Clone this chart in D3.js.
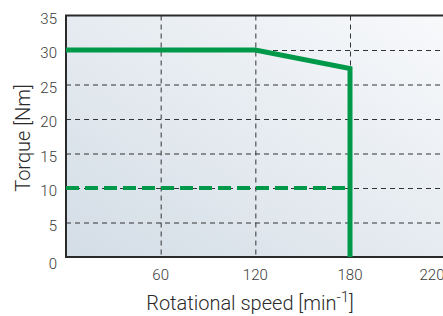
<!DOCTYPE html>
<html>
<head>
<meta charset="utf-8">
<script src="https://cdn.jsdelivr.net/npm/d3@7"></script>
<style>
  body { margin: 0; background: #fff; }
  svg { display: block; font-family: "Roboto", "Liberation Sans", sans-serif; }
</style>
</head>
<body>
<svg id="chart" width="443" height="316"></svg>
<script>
// data
var speed = [0, 120, 180, 180];          // min^-1
var peakTorque = [30, 30, 27.3, 0];      // Nm
var contSpeed = [0, 180];
var contTorque = [10, 10];
var yTicks = [0, 5, 10, 15, 20, 25, 30, 35];
var xTicks = [60, 120, 180, 220];
var xGrid = [60, 120, 180];
var yGrid = [5, 10, 15, 20, 25, 30];

var width = 443;
var height = 316;
var padding = { t: 15.5, l: 66, b: 257 };

var svg = d3.select('#chart');

// x axis is not evenly spaced in the original (220 sits near the edge)
var xScale = d3.scaleLinear().domain([0, 180, 220]).range([66, 350, 432]);
var yScale = d3.scaleLinear().domain([0, 35]).range([padding.b, padding.t]);

// background gradient
var defs = svg.append('defs');
var grad = defs.append('linearGradient')
    .attr('id', 'bg')
    .attr('x1', '0%').attr('y1', '100%')
    .attr('x2', '100%').attr('y2', '0%');
grad.append('stop').attr('offset', '0%').attr('stop-color', '#d3dde6');
grad.append('stop').attr('offset', '100%').attr('stop-color', '#f8f9fb');

svg.append('rect')
    .attr('x', xScale(0))
    .attr('y', yScale(35))
    .attr('width', width - xScale(0))
    .attr('height', yScale(0) - yScale(35))
    .attr('fill', 'url(#bg)');

// grid
svg.selectAll('.hgrid')
    .data(yGrid)
    .enter()
    .append('line')
    .attr('class', 'hgrid')
    .attr('x1', xScale(0))
    .attr('x2', width)
    .attr('y1', d => yScale(d) + 0.5)
    .attr('y2', d => yScale(d) + 0.5)
    .attr('stroke', '#333')
    .attr('stroke-width', 1)
    .attr('stroke-dasharray', '5,4');

svg.selectAll('.vgrid')
    .data(xGrid)
    .enter()
    .append('line')
    .attr('class', 'vgrid')
    .attr('x1', d => xScale(d) + 0.5)
    .attr('x2', d => xScale(d) + 0.5)
    .attr('y1', yScale(35))
    .attr('y2', yScale(0))
    .attr('stroke', '#333')
    .attr('stroke-width', 1)
    .attr('stroke-dasharray', '5,4');

// frame: top, left, bottom
svg.append('path')
    .attr('d', `M${width},${yScale(35)}H${xScale(0)}V${yScale(0)}H${width}`)
    .attr('fill', 'none')
    .attr('stroke', '#2a2a2a')
    .attr('stroke-width', 2);

// curves
var line = d3.line()
    .x(d => xScale(d[0]))
    .y(d => yScale(d[1]));

svg.append('path')
    .datum(d3.zip(contSpeed, contTorque))
    .attr('d', line)
    .attr('fill', 'none')
    .attr('stroke', '#00994a')
    .attr('stroke-width', 4)
    .attr('stroke-dasharray', '13,6');

svg.append('path')
    .datum(d3.zip(speed, peakTorque))
    .attr('d', line)
    .attr('fill', 'none')
    .attr('stroke', '#00994a')
    .attr('stroke-width', 5)
    .attr('stroke-linejoin', 'miter');

// tick labels
svg.selectAll('.ylab')
    .data(yTicks)
    .enter()
    .append('text')
    .attr('class', 'ylab')
    .attr('x', 57)
    .attr('y', d => yScale(d) + (d === 0 ? 7 : 3))
    .attr('dy', '0.35em')
    .attr('text-anchor', 'end')
    .attr('fill', '#3a3a3a')
    .style('font-size', '15px')
    .style('font-weight', 300)
    .text(d => d);

svg.selectAll('.xlab')
    .data(xTicks)
    .enter()
    .append('text')
    .attr('class', 'xlab')
    .attr('x', d => xScale(d))
    .attr('y', 280)
    .attr('text-anchor', 'middle')
    .attr('fill', '#3a3a3a')
    .style('font-size', '15px')
    .style('font-weight', 300)
    .text(d => d);

// axis titles
var xt = svg.append('text')
    .attr('x', 250)
    .attr('y', 310)
    .attr('text-anchor', 'middle')
    .attr('fill', '#2a2a2a')
    .style('font-size', '20px')
    .style('font-weight', 300);
xt.append('tspan').text('Rotational speed [min');
xt.append('tspan').attr('dy', -8).style('font-size', '15px').text('-1');
xt.append('tspan').attr('dy', 8).text(']');

svg.append('text')
    .attr('transform', 'translate(30,138) rotate(-90)')
    .attr('text-anchor', 'middle')
    .attr('fill', '#2a2a2a')
    .style('font-size', '20px')
    .style('font-weight', 300)
    .text('Torque [Nm]');
</script>
</body>
</html>
